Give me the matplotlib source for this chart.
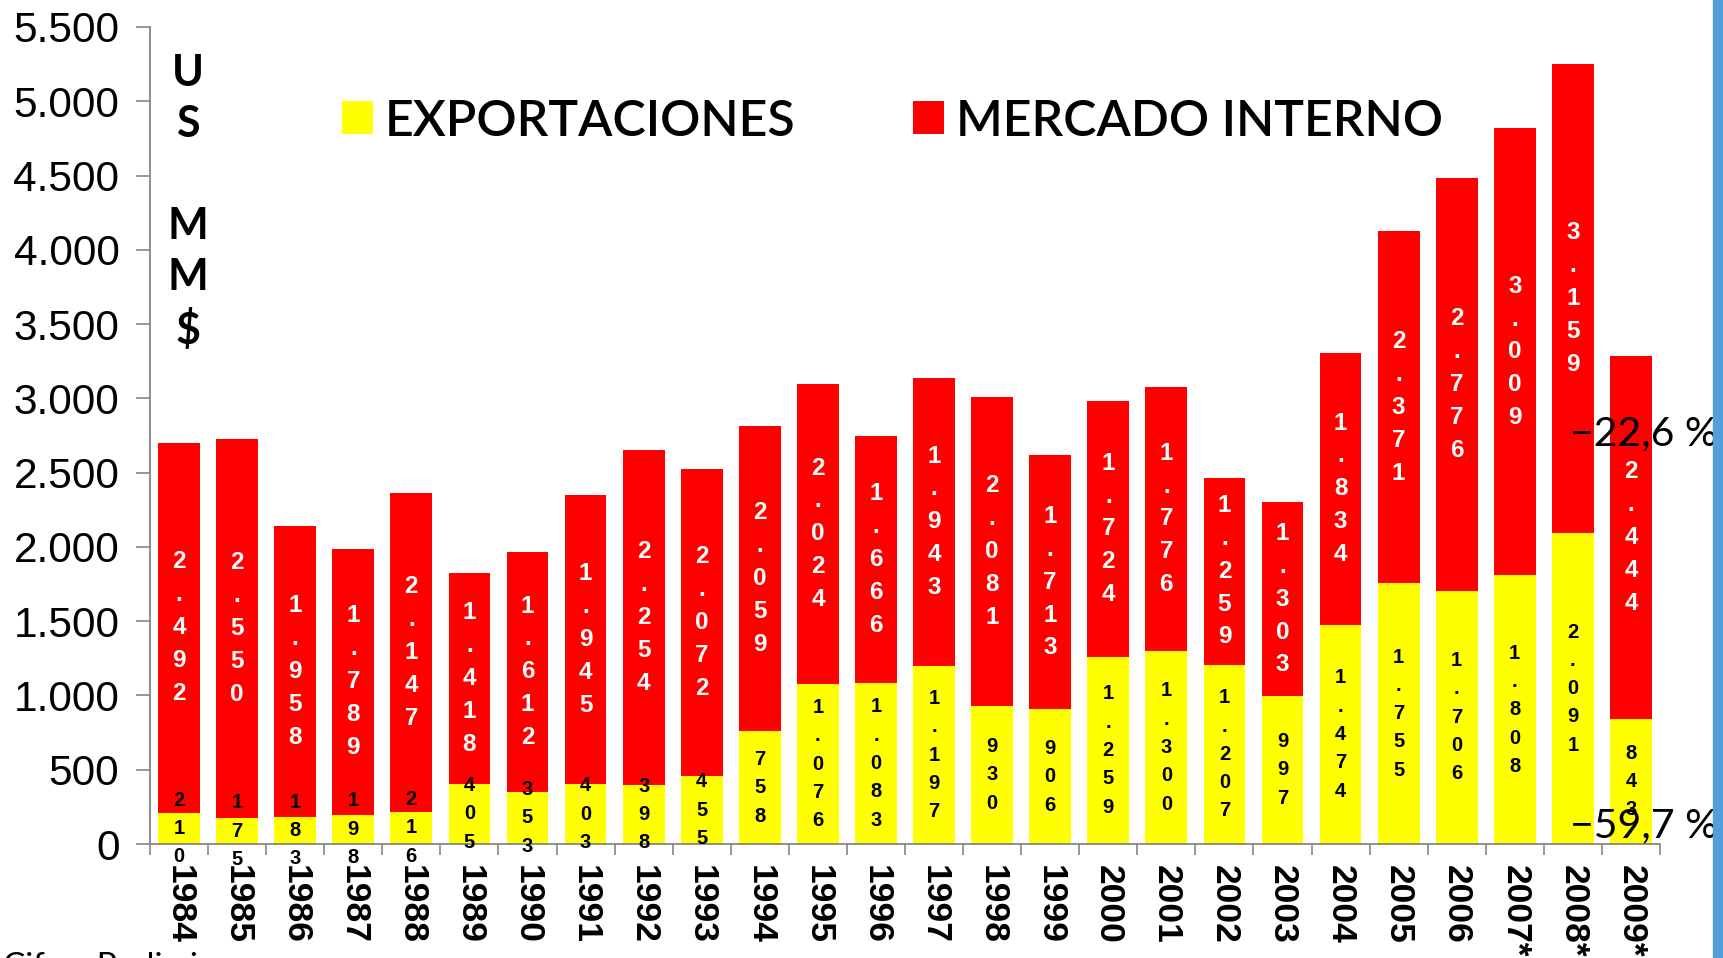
import matplotlib
matplotlib.use('Agg')
import matplotlib.pyplot as plt
from matplotlib.patches import Patch, Rectangle
import numpy as np

# ---------------- data ----------------
years = ["1984", "1985", "1986", "1987", "1988", "1989", "1990", "1991", "1992",
         "1993", "1994", "1995", "1996", "1997", "1998", "1999", "2000", "2001",
         "2002", "2003", "2004", "2005", "2006", "2007*", "2008*", "2009*"]
exportaciones = [210, 175, 183, 198, 216, 405, 353, 403, 398, 455, 758, 1076, 1083,
                 1197, 930, 906, 1259, 1300, 1207, 997, 1474, 1755, 1706, 1808, 2091, 843]
mercado_interno = [2492, 2550, 1958, 1789, 2147, 1418, 1612, 1945, 2254, 2072, 2059,
                   2024, 1666, 1943, 2081, 1713, 1724, 1776, 1259, 1303, 1834, 2371,
                   2776, 3009, 3159, 2444]
series_labels = ["EXPORTACIONES", "MERCADO INTERNO"]
y_ticks = [0, 500, 1000, 1500, 2000, 2500, 3000, 3500, 4000, 4500, 5000, 5500]
y_tick_labels = ["0", "500", "1.000", "1.500", "2.000", "2.500", "3.000", "3.500",
                 "4.000", "4.500", "5.000", "5.500"]
unit_label = "U\nS\n\nM\nM\n$"
var_mercado = "\u221222,6 %"
var_export = "\u221259,7 %"
note = "Cifras Preliminares"

# ---------------- figure ----------------
W, H = 1723, 958
fig = plt.figure(figsize=(W / 100, H / 100), dpi=100)
ax = fig.add_axes([150 / W, 1 - 844 / H, (1660 - 150) / W, (844 - 27) / H])

YELLOW = '#FFFF00'
RED = '#FF0000'
GREY = '#868686'

x = np.arange(len(years))
ax.bar(x, exportaciones, width=0.72, color=YELLOW, zorder=2)
ax.bar(x, mercado_interno, bottom=exportaciones, width=0.72, color=RED, zorder=2)
ax.set_xlim(-0.5, len(years) - 0.5)
ax.set_ylim(0, 5500)


def vlabel(v):
    return "\n".join(f"{v:,}".replace(",", "."))


for xi, e, m in zip(x, exportaciones, mercado_interno):
    ax.text(xi, e / 2, vlabel(e), ha='center', va='center', fontsize=14.5,
            fontweight='bold', color='black', family='Liberation Sans',
            linespacing=1.62, zorder=3)
    ax.text(xi, e + m / 2, vlabel(m), ha='center', va='center', fontsize=17.5,
            fontweight='bold', color='white', family='Liberation Sans',
            linespacing=1.55, zorder=3)

# spines
for s in ['top', 'right']:
    ax.spines[s].set_visible(False)
for s in ['left', 'bottom']:
    ax.spines[s].set_color(GREY)
    ax.spines[s].set_linewidth(1.3)

ax.set_yticks(y_ticks)
ax.set_yticklabels(y_tick_labels, fontsize=30.5, family='Liberation Sans')
ax.tick_params(axis='y', direction='out', length=10, width=1.2, color=GREY, pad=12)

ax.set_xticks(x)
ax.set_xticklabels(years, rotation=270, fontsize=25.5, fontweight='bold',
                   family='Liberation Sans')
ax.tick_params(axis='x', which='major', length=0, pad=15)
ax.set_xticks(np.arange(-0.5, len(years)), minor=True)
ax.tick_params(axis='x', which='minor', direction='out', length=8, width=1.2, color=GREY)

# legend
handles = [Patch(facecolor=YELLOW), Patch(facecolor=RED)]
ax.legend(handles, series_labels, ncol=2, loc='center left',
          bbox_to_anchor=(342 / W, 1 - 121 / H), bbox_transform=fig.transFigure,
          frameon=False, prop={'family': 'Lato', 'size': 36, 'weight': 'semibold'},
          handlelength=0.62, handleheight=0.64, handletextpad=0.24,
          columnspacing=2.35, borderpad=0, borderaxespad=0)

# unit label
fig.text(188 / W, 1 - 202 / H, unit_label, ha='center', va='center', fontsize=31,
         fontweight='bold', family='Lato', linespacing=1.33)

# variation annotations
fig.text(1718 / W, 1 - 434 / H, var_mercado, ha='right', va='center', fontsize=29.5,
         family=['Lato', 'DejaVu Sans'])
fig.text(1718 / W, 1 - 826 / H, var_export, ha='right', va='center', fontsize=29.5,
         family=['Lato', 'DejaVu Sans'])

# cut off note
fig.text(0.002, 1 - 952 / H, note, ha='left', va='top', fontsize=24, family='Lato')

# right blue strip
fig.add_artist(Rectangle((1713 / W, 0), 10 / W, 1, transform=fig.transFigure,
                         color='#559DDB', zorder=10))

fig.savefig('out.png', dpi=100)
